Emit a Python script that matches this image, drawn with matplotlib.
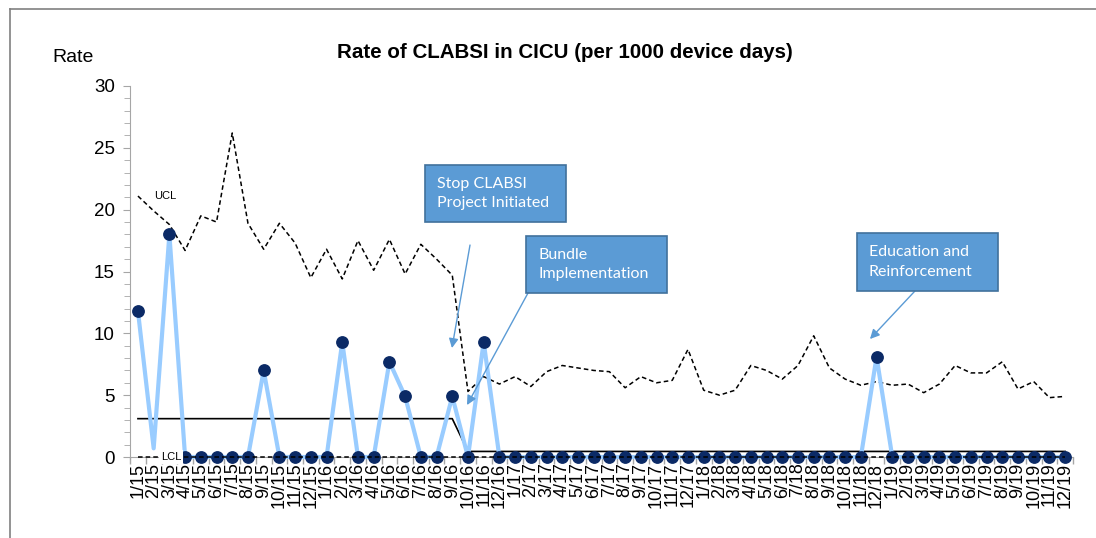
import numpy as np
import matplotlib
matplotlib.use('Agg')
from matplotlib import pyplot as plt
from matplotlib.patches import Rectangle
from matplotlib.lines import Line2D
from matplotlib.ticker import MultipleLocator, FixedLocator

plt.rcParams['font.family'] = ['Liberation Sans', 'DejaVu Sans']

#%% Data
months = [f'{m}/{y}' for y in range(15, 20) for m in range(1, 13)]

rate = [11.8, 0.7, 18.0, 0, 0, 0, 0, 0, 7.0, 0, 0, 0,
        0, 9.3, 0, 0, 7.7, 4.9, 0, 0, 4.9, 0, 9.3, 0,
        0, 0, 0, 0, 0, 0, 0, 0, 0, 0, 0, 0,
        0, 0, 0, 0, 0, 0, 0, 0, 0, 0, 0, 8.1,
        0, 0, 0, 0, 0, 0, 0, 0, 0, 0, 0, 0]
no_marker = [1]   # 2/15 drawn without a marker

center = [3.1] * 21 + [0.45] * 39

ucl = [21.1, 19.9, 18.8, 16.7, 19.5, 19.0, 26.2, 18.9, 16.8, 18.9, 17.3, 14.5,
       16.8, 14.4, 17.5, 15.1, 17.6, 14.8, 17.2, 16.0, 14.7, 5.3, 6.5, 5.9,
       6.5, 5.7, 6.9, 7.4, 7.2, 7.0, 6.9, 5.6, 6.5, 6.0, 6.2, 8.7,
       5.4, 5.0, 5.4, 7.4, 7.0, 6.3, 7.4, 9.8, 7.2, 6.3, 5.8, 6.1,
       5.8, 5.9, 5.2, 5.9, 7.4, 6.8, 6.8, 7.7, 5.5, 6.1, 4.8, 4.9]

lcl = [0] * 60

#%% Plot
W, H = 1096, 538
fig = plt.figure(figsize=(W / 100, H / 100), dpi=100)
ax = fig.add_axes([130.1 / W, 1 - 457 / H, (1073 - 130.1) / W, (457 - 86) / H])

x = np.arange(len(months))
marks = [i for i in x if i not in no_marker]
ax.plot(x, rate, color='#99CCFF', lw=3.0, zorder=3, clip_on=False)
ax.plot(x[marks], np.array(rate)[marks], 'o', color='#0B2A66', ms=8.2, zorder=4, clip_on=False)
ax.plot(x, center, color='black', lw=1.2, zorder=2, clip_on=False)
ax.plot(x, ucl, color='black', lw=1.1, ls=(0, (3, 2)), zorder=2)
ax.plot(x, lcl, color='black', lw=1.1, ls=(0, (3, 2)), zorder=5, clip_on=False)

ax.set_xlim(-0.5, len(months) - 0.5)
ax.set_ylim(0, 30)
ax.yaxis.set_major_locator(MultipleLocator(5))
ax.yaxis.set_minor_locator(MultipleLocator(1))
ax.set_xticks(x)
ax.set_xticklabels(months, rotation=90, fontsize=13)
ax.xaxis.set_minor_locator(FixedLocator(np.arange(-0.5, len(months), 1)))
ax.tick_params(axis='x', which='major', length=0, pad=4)
ax.tick_params(axis='x', which='minor', length=5, color='#A6A6A6', width=1)
ax.tick_params(axis='y', which='major', length=5, color='#A6A6A6', labelsize=13.5, pad=6)
ax.tick_params(axis='y', which='minor', length=4, color='#A6A6A6')
for s in ['top', 'right']:
    ax.spines[s].set_visible(False)
for s in ['left', 'bottom']:
    ax.spines[s].set_color('#A6A6A6')

ax.text(1.0, ucl[0], 'UCL', fontsize=8, va='center', ha='left', zorder=6)
ax.text(1.45, 0, 'LCL', fontsize=8, va='center', ha='left', zorder=6,
        bbox=dict(facecolor='white', edgecolor='none', pad=1.5))

fig.text(565 / W, 1 - 53 / H, 'Rate of CLABSI in CICU (per 1000 device days)',
         fontsize=14.8, fontweight='bold', ha='center', va='center')
fig.text(52 / W, 1 - 58 / H, 'Rate', fontsize=14, ha='left', va='center')

# annotation boxes
boxes = [((425, 165, 566, 222), 'Stop CLABSI\nProject Initiated'),
         ((526, 236, 667, 293), 'Bundle\nImplementation'),
         ((857, 233, 998, 291), 'Education and\nReinforcement')]
for (x0, y0, x1, y1), txt in boxes:
    fig.add_artist(Rectangle((x0 / W, 1 - y1 / H), (x1 - x0) / W, (y1 - y0) / H,
                             transform=fig.transFigure, facecolor='#5B9BD5',
                             edgecolor='#41719C', lw=1.2))
    fig.text((x0 + 12) / W, 1 - (y0 + y1) / 2 / H, txt, color='white', fontsize=11.5,
             family=['Lato', 'DejaVu Sans'], ha='left', va='center', linespacing=1.5)

arrows = [((21.13, 17.14), (19.98, 8.81)),
          ((24.82, 13.26), (20.94, 4.2)),
          ((49.44, 13.42), (46.58, 9.54))]
for tail, head in arrows:
    ax.annotate('', xy=head, xytext=tail, annotation_clip=False,
                arrowprops=dict(arrowstyle='-|>', color='#5B9BD5', lw=1.0,
                                mutation_scale=14, shrinkA=0, shrinkB=0))

# page frame
fig.add_artist(Line2D([10 / W, 10 / W], [0, 1 - 9 / H], color='#808080', lw=1.2))
fig.add_artist(Line2D([10 / W, 1], [1 - 9 / H, 1 - 9 / H], color='#808080', lw=1.2))

fig.savefig('out.png', dpi=100)
